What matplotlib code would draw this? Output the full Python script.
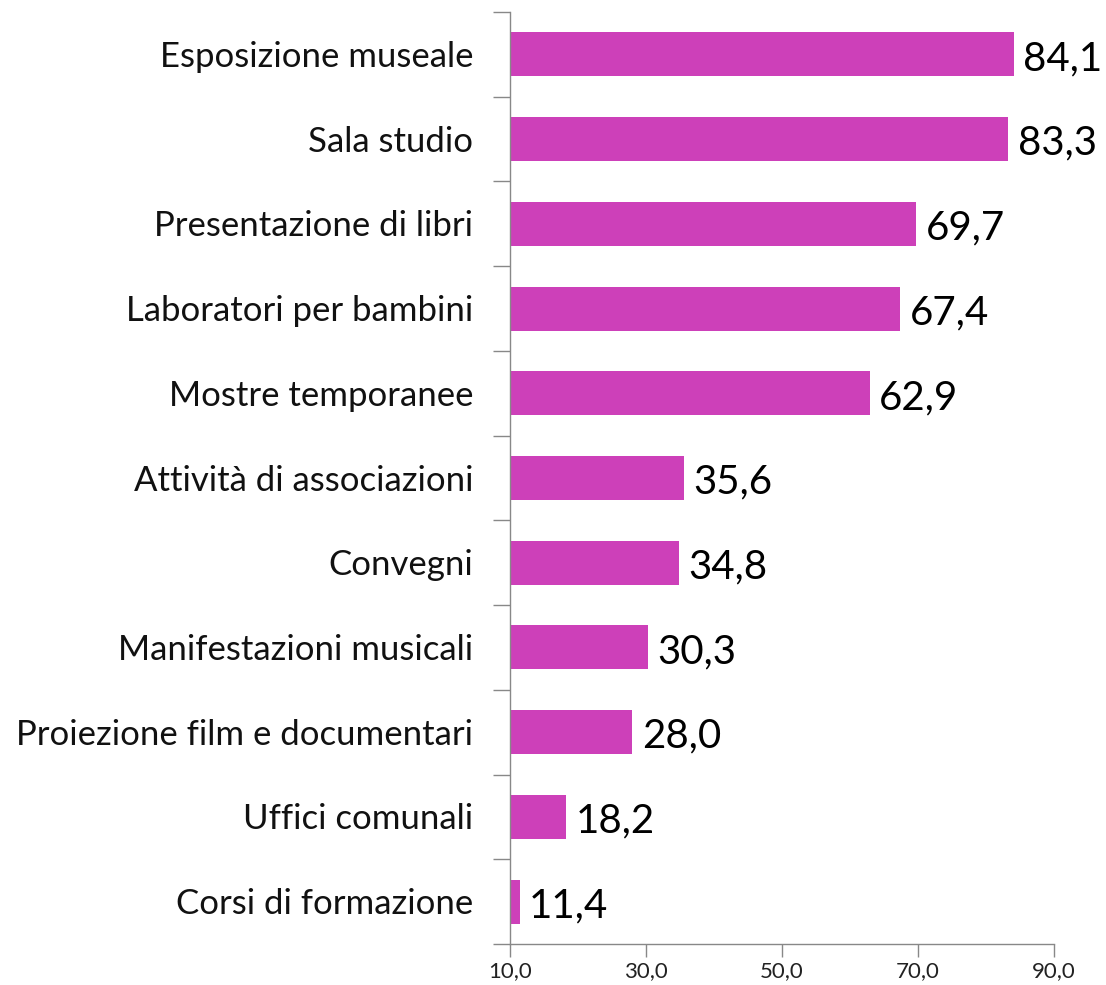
import matplotlib
matplotlib.use("Agg")
import matplotlib.pyplot as plt

categories = ["Esposizione museale", "Sala studio", "Presentazione di libri",
              "Laboratori per bambini", "Mostre temporanee",
              "Attività di associazioni", "Convegni", "Manifestazioni musicali",
              "Proiezione film e documentari", "Uffici comunali",
              "Corsi di formazione"]
values = [84.1, 83.3, 69.7, 67.4, 62.9, 35.6, 34.8, 30.3, 28.0, 18.2, 11.4]
xticks = [10, 30, 50, 70, 90]
xtick_labels = ["10,0", "30,0", "50,0", "70,0", "90,0"]

plt.rcParams['font.family'] = ['Lato', 'DejaVu Sans']

fig = plt.figure(figsize=(11.06, 9.85), dpi=100)
ax = fig.add_axes([510/1106, 1-944/985, (1054-510)/1106, (944-12)/985])

base = 10
pos = list(range(len(categories)))
ax.barh(pos, [v - base for v in values], left=base, height=0.52, color='#CD40B9')

for p, v in zip(pos, values):
    ax.text(v + 1.4, p + 0.05, f"{v:.1f}".replace('.', ','), va='center', ha='left',
            fontsize=29, color='black')

ax.set_xlim(10, 90)
ax.set_ylim(len(categories) - 0.5, -0.5)
ax.set_xticks(xticks)
ax.set_xticklabels(xtick_labels, fontsize=16, color='#222222')

ax.set_yticks([p - 0.5 for p in pos] + [len(categories) - 0.5])
ax.set_yticklabels([])
for p, c in zip(pos, categories):
    ax.text(-0.068, p + 0.03, c, transform=ax.get_yaxis_transform(), ha='right', va='center',
            fontsize=25, color='#111111')

for s in ['top', 'right']:
    ax.spines[s].set_visible(False)
for s in ['left', 'bottom']:
    ax.spines[s].set_color('#888888')
    ax.spines[s].set_linewidth(1.0)
ax.tick_params(axis='y', direction='out', length=12, color='#888888', width=1.0)
ax.tick_params(axis='x', direction='out', length=9, color='#888888', width=1.0, pad=3)

fig.savefig('out.png', dpi=100)
